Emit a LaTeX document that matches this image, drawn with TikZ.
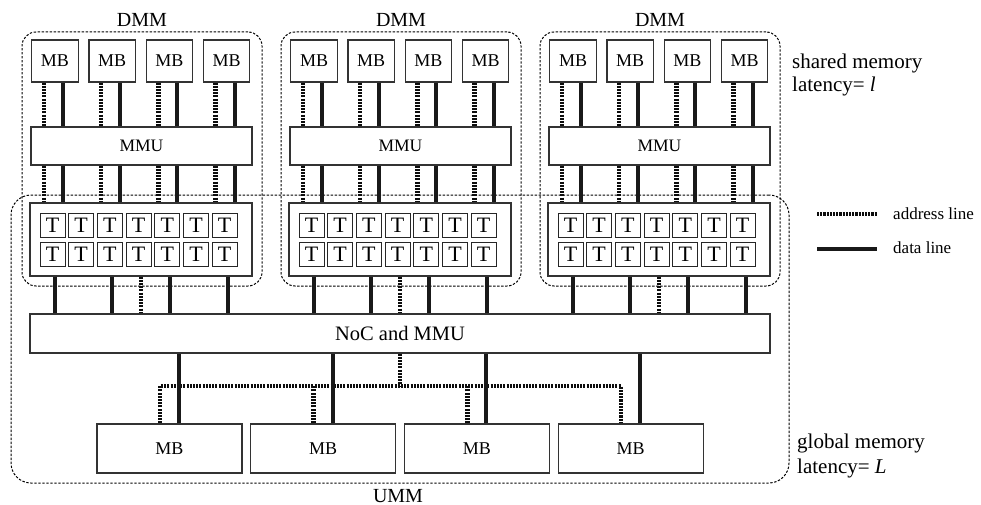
\documentclass[tikz,border=0pt]{standalone}
\usepackage{fontspec}
\setmainfont{Liberation Serif}
\tikzset{
  box/.style={draw=black!80, line width=1.1pt, fill=white, inner sep=0pt},
  tbox/.style={draw=black!85, line width=1pt, fill=white, inner sep=0pt,
    minimum width=25pt, minimum height=24pt, font=\fontsize{22}{22}\selectfont},
  datal/.style={line width=4pt, draw=black!90},
  addrl/.style={line width=4.5pt, draw=black!95, dash pattern=on 2.1pt off 1.1pt},
  region/.style={draw=black, line width=1pt, dash pattern=on 2.4pt off 1.6pt,
    rounded corners=14pt, inner sep=0pt},
  lbl/.style={inner sep=0pt},
}
\begin{document}
\begin{tikzpicture}[x=1pt,y=-1pt]
\useasboundingbox (0,0) rectangle (981,505);

% UMM region
\node[region, rounded corners=20pt, minimum width=778pt, minimum height=288pt] (umm) at (400,339) {};
\node[lbl, anchor=base, font=\fontsize{20}{22}\selectfont] (ummlab) at (398,502) {UMM};

% NoC
\node[box, minimum width=740pt, minimum height=39pt, font=\fontsize{20.5}{22}\selectfont] (noc) at (400,333.5) {NoC and MMU};

% global memory blocks
\foreach \k in {0,...,3}{
  \node[box, minimum width=145pt, minimum height=49pt, font=\fontsize{18}{20}\selectfont] (gmb\k) at ({169.5+153.7*\k},448.5) {MB};
}
\coordinate (bus) at (400,386);
\draw[addrl] ([xshift=-9.5pt]gmb0.north) -- ([xshift=-9.5pt]gmb0.north |- bus) -- ([xshift=-9.5pt]gmb3.north |- bus) -- ([xshift=-9.5pt]gmb3.north);
\foreach \k in {1,2}{
  \draw[addrl] ([xshift=-9.5pt]gmb\k.north) -- ([xshift=-9.5pt]gmb\k.north |- bus);
}
\draw[addrl] (noc.south) -- (bus);
\foreach \k in {0,...,3}{
  \draw[datal] ([xshift=9.5pt]gmb\k.north) -- ([xshift=9.5pt]gmb\k.north |- noc.south);
}

% DMM groups
\foreach \g in {0,1,2}{
  \pgfmathsetmacro\o{259*\g}
  \node[region, minimum width=240pt, minimum height=254pt] (dmm\g) at (142+\o,159) {};
  \node[lbl, anchor=base, font=\fontsize{20}{22}\selectfont] (dmmlab\g) at (142+\o,27) {DMM};
  \node[box, minimum width=221pt, minimum height=38pt, font=\fontsize{17.5}{20}\selectfont] (mmu\g) at (141.5+\o,146) {MMU};
  \node[box, minimum width=222pt, minimum height=73pt] (tp\g) at (141+\o,239.5) {};
  \foreach \j in {0,...,6}{
    \node[tbox] (ta\g\j) at ({52.5+28.7*\j+\o},225) {T};
    \node[tbox] (tb\g\j) at ({52.5+28.7*\j+\o},254) {T};
  }
  \foreach \i in {0,...,3}{
    \node[box, minimum width=46.5pt, minimum height=42pt, font=\fontsize{18}{20}\selectfont] (mb\g\i) at ({55+57.2*\i+\o},61) {MB};
    \draw[addrl] ([xshift=-11pt]mb\g\i.south) -- ([xshift=-11pt]mb\g\i.south |- mmu\g.north);
    \draw[datal] ([xshift=8pt]mb\g\i.south) -- ([xshift=8pt]mb\g\i.south |- mmu\g.north);
    \draw[addrl] ([xshift=-11pt]mb\g\i.south |- mmu\g.south) -- ([xshift=-11pt]mb\g\i.south |- tp\g.north);
    \draw[datal] ([xshift=8pt]mb\g\i.south |- mmu\g.south) -- ([xshift=8pt]mb\g\i.south |- tp\g.north);
  }
  \foreach \dx in {-86,-29,29,87}{
    \draw[datal] ([xshift=\dx pt]tp\g.south) -- ([xshift=\dx pt]tp\g.south |- noc.north);
  }
  \draw[addrl] (tp\g.south) -- (tp\g.south |- noc.north);
}

% legend
\coordinate (la1) at (817,214); \coordinate (la2) at (877,214);
\coordinate (ld1) at (817,249); \coordinate (ld2) at (877,249);
\draw[addrl] (la1) -- (la2);
\draw[datal] (ld1) -- (ld2);
\node[lbl, anchor=base west, font=\fontsize{17}{19}\selectfont] (latxt) at (893,219) {address line};
\node[lbl, anchor=base west, font=\fontsize{17}{19}\selectfont] (ldtxt) at (893,253) {data line};

% side labels
\node[lbl, anchor=base west, font=\fontsize{21}{23}\selectfont] (sm1) at (792,69) {shared memory};
\node[lbl, anchor=base west, font=\fontsize{21}{23}\selectfont] (sm2) at (792,91.5) {latency= \textit{l}};
\node[lbl, anchor=base west, font=\fontsize{21}{23}\selectfont] (gm1) at (797,448) {global memory};
\node[lbl, anchor=base west, font=\fontsize{21}{23}\selectfont] (gm2) at (797,473) {latency= \textit{L}};
\end{tikzpicture}
\end{document}
